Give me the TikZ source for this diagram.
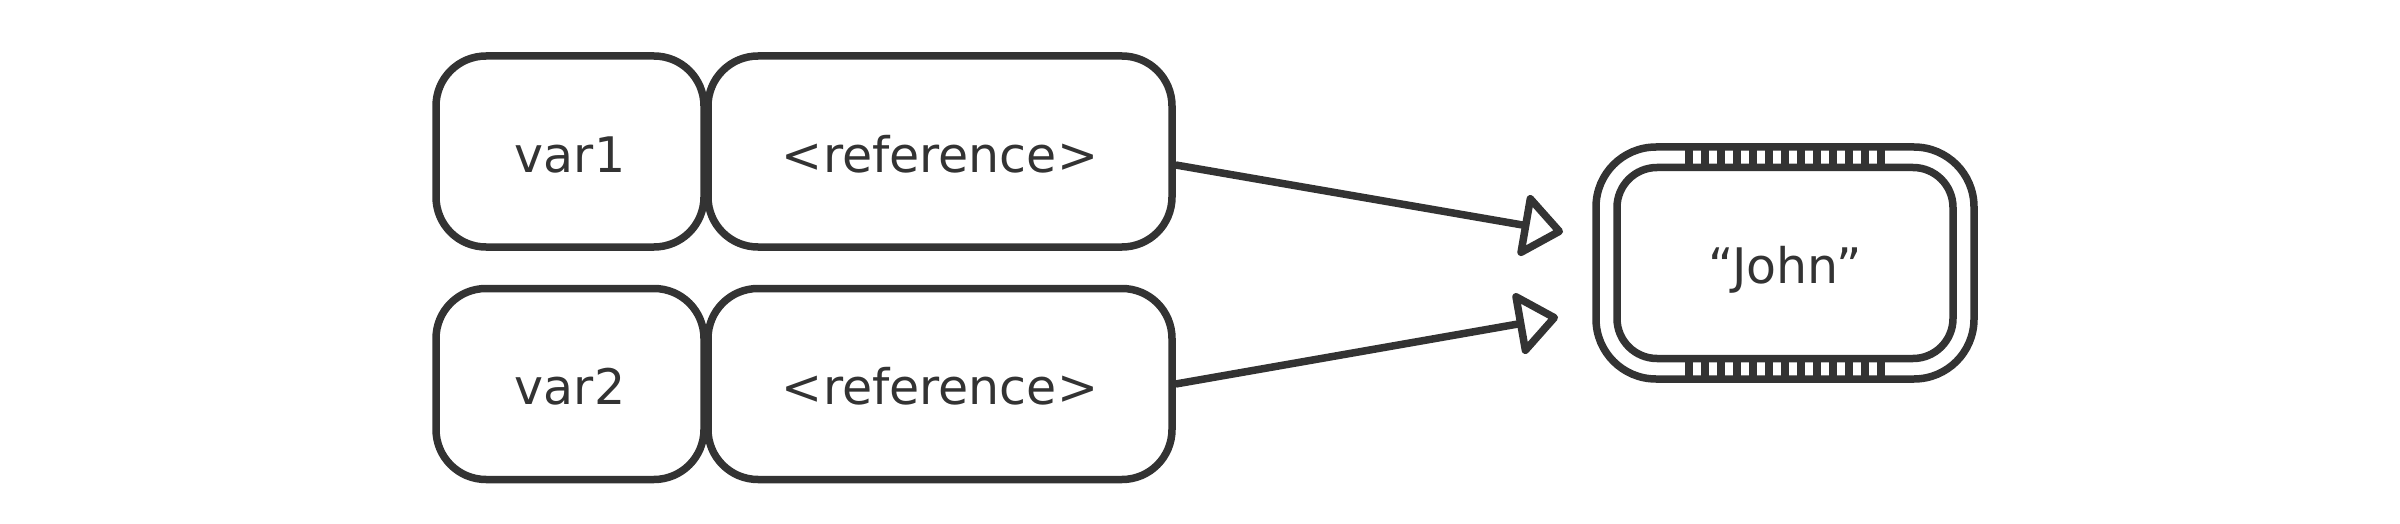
\documentclass[tikz,border=0pt]{standalone}
\usepackage{fontspec}
\setmainfont{DejaVu Sans}
\usetikzlibrary{arrows.meta}
\definecolor{ink}{HTML}{333333}
\begin{document}
\begin{tikzpicture}[x=0.5pt,y=-0.5pt,
  lbl/.style={text=ink, font=\fontsize{24.5}{29}\selectfont, text height=20.5pt, text depth=0pt},
  cell/.style={draw=ink, line width=3.75pt, rounded corners=25pt, inner sep=0pt,
    minimum height=95.5pt, lbl},
  namecell/.style={cell, minimum width=134pt},
  refcell/.style={cell, minimum width=232pt},
  outerbox/.style={draw=ink, line width=3.75pt, rounded corners=30pt, inner sep=0pt,
    minimum width=189pt, minimum height=116pt},
  innerbox/.style={draw=ink, line width=3.75pt, rounded corners=20pt, inner sep=0pt,
    minimum width=168pt, minimum height=95.5pt, lbl},
  conn/.style={draw=ink, line width=3.75pt, -{Triangle[open,length=22pt,width=34pt,round]}}
]
\fill[white] (0,0) rectangle (2400,524);
\useasboundingbox (0,0) rectangle (2400,524);

\node[namecell] (var1) at (570,151.5) {var1};
\node[refcell]  (ref1) at (940,151.5) {<reference>};
\node[namecell] (var2) at (570,384) {var2};
\node[refcell]  (ref2) at (940,384) {<reference>};

\node[outerbox] (johnout) at (1785,263) {};
\node[innerbox] (john) at (1785,263) {“John”};

\foreach \k in {0,...,12} {
  \fill[ink] (1685+16*\k,147) rectangle +(8,21);
  \fill[ink] (1685+16*\k,358) rectangle +(8,21);
}

\coordinate (t1) at (1563,232);
\coordinate (t2) at (1558,317);
\draw[conn] ([yshift=-6.75pt]ref1.east) -- (t1);
\draw[conn] (ref2.east) -- (t2);
\end{tikzpicture}
\end{document}
